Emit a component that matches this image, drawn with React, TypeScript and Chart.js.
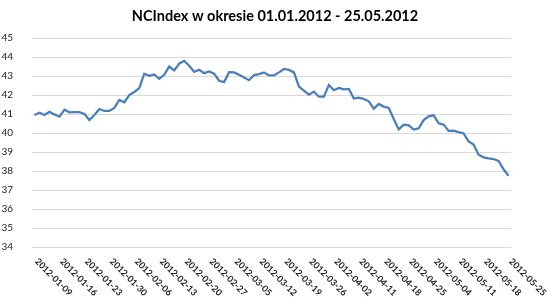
import React, { useEffect, useRef } from "react";
import { Chart, registerables } from "chart.js";

Chart.register(...registerables);

const TITLE = "NCIndex w okresie 01.01.2012 - 25.05.2012";

const dates: string[] = [
  "2012-01-09", "2012-01-10", "2012-01-11", "2012-01-12", "2012-01-13",
  "2012-01-16", "2012-01-17", "2012-01-18", "2012-01-19", "2012-01-20",
  "2012-01-23", "2012-01-24", "2012-01-25", "2012-01-26", "2012-01-27",
  "2012-01-30", "2012-01-31", "2012-02-01", "2012-02-02", "2012-02-03",
  "2012-02-06", "2012-02-07", "2012-02-08", "2012-02-09", "2012-02-10",
  "2012-02-13", "2012-02-14", "2012-02-15", "2012-02-16", "2012-02-17",
  "2012-02-20", "2012-02-21", "2012-02-22", "2012-02-23", "2012-02-24",
  "2012-02-27", "2012-02-28", "2012-02-29", "2012-03-01", "2012-03-02",
  "2012-03-05", "2012-03-06", "2012-03-07", "2012-03-08", "2012-03-09",
  "2012-03-12", "2012-03-13", "2012-03-14", "2012-03-15", "2012-03-16",
  "2012-03-19", "2012-03-20", "2012-03-21", "2012-03-22", "2012-03-23",
  "2012-03-26", "2012-03-27", "2012-03-28", "2012-03-29", "2012-03-30",
  "2012-04-02", "2012-04-03", "2012-04-04", "2012-04-05", "2012-04-10",
  "2012-04-11", "2012-04-12", "2012-04-13", "2012-04-16", "2012-04-17",
  "2012-04-18", "2012-04-19", "2012-04-20", "2012-04-23", "2012-04-24",
  "2012-04-25", "2012-04-26", "2012-04-27", "2012-04-30", "2012-05-02",
  "2012-05-04", "2012-05-07", "2012-05-08", "2012-05-09", "2012-05-10",
  "2012-05-11", "2012-05-14", "2012-05-15", "2012-05-16", "2012-05-17",
  "2012-05-18", "2012-05-21", "2012-05-22", "2012-05-23", "2012-05-24",
  "2012-05-25",
];

const ncindex: number[] = [
  40.95, 41.07, 40.95, 41.12, 40.98, 40.86, 41.23, 41.09, 41.1, 41.1,
  41.0, 40.68, 40.95, 41.26, 41.16, 41.16, 41.32, 41.74, 41.62, 42.0,
  42.16, 42.36, 43.12, 43.01, 43.08, 42.85, 43.06, 43.5, 43.29, 43.65,
  43.8, 43.54, 43.22, 43.33, 43.15, 43.24, 43.12, 42.75, 42.68, 43.2,
  43.19, 43.06, 42.92, 42.78, 43.05, 43.1, 43.19, 43.03, 43.03, 43.19,
  43.37, 43.32, 43.19, 42.44, 42.23, 42.02, 42.18, 41.91, 41.91, 42.53,
  42.25, 42.37, 42.3, 42.32, 41.81, 41.86, 41.79, 41.67, 41.28, 41.53,
  41.39, 41.32, 40.74, 40.19, 40.44, 40.4, 40.18, 40.25, 40.68, 40.88,
  40.93, 40.51, 40.44, 40.11, 40.12, 40.05, 39.98, 39.56, 39.39, 38.86,
  38.72, 38.67, 38.63, 38.53, 38.09, 37.75,
];

const Y_MIN = 34;
const Y_MAX = 45;
const Y_STEP = 1;
const LABEL_EVERY = 5;

const FONT = "Lato, 'Open Sans', sans-serif";

const xLabelsPlugin = {
  id: "xLabels",
  afterDraw(chart: any) {
    const { ctx, chartArea, scales } = chart;
    const xs = scales.x;
    ctx.save();
    ctx.font = `bold 9px ${FONT}`;
    ctx.fillStyle = "#222";
    ctx.textAlign = "left";
    ctx.textBaseline = "middle";
    dates.forEach((d, i) => {
      if (i % LABEL_EVERY !== 0) return;
      const x = xs.getPixelForValue(i);
      ctx.save();
      ctx.translate(x + 2, chartArea.bottom + 13);
      ctx.rotate(Math.PI / 4);
      ctx.fillText(d, 0, 0);
      ctx.restore();
    });
    ctx.restore();
  },
};

export default function App() {
  const ref = useRef<HTMLCanvasElement>(null);

  useEffect(() => {
    if (!ref.current) return;
    const chart = new Chart(ref.current, {
      type: "line",
      data: {
        labels: dates,
        datasets: [
          {
            data: ncindex,
            borderColor: "#4a7ebb",
            borderWidth: 2.25,
            pointRadius: 0,
            tension: 0,
            fill: false,
          },
        ],
      },
      options: {
        responsive: false,
        animation: false,
        layout: { padding: 0 },
        plugins: {
          legend: { display: false },
          tooltip: { enabled: false },
          title: {
            display: true,
            text: TITLE,
            color: "#000",
            font: { family: FONT, size: 14.5, weight: "bold", lineHeight: 1.2 },
            padding: { top: 8, bottom: 12.6 },
          },
        },
        scales: {
          x: {
            offset: true,
            grid: { display: false },
            border: { display: false },
            ticks: { display: false },
            afterFit: (s: any) => {
              s.height = 56;
            },
          },
          y: {
            min: Y_MIN,
            max: Y_MAX,
            grid: { color: "#d9d9d9", lineWidth: 1, drawTicks: false },
            border: { display: false },
            ticks: {
              stepSize: Y_STEP,
              padding: 19,
              color: "#222",
              font: { family: FONT, size: 10 },
            },
            afterFit: (s: any) => {
              s.width = 32;
            },
          },
          yRight: {
            position: "right",
            display: true,
            grid: { display: false },
            border: { display: false },
            ticks: { display: false },
            afterFit: (s: any) => {
              s.width = 39;
            },
          },
        },
      },
      plugins: [xLabelsPlugin],
    });
    return () => chart.destroy();
  }, []);

  return (
    <div style={{ position: "absolute", left: 0, top: 0, width: 550, height: 303 }}>
      <canvas ref={ref} width={550} height={303} />
    </div>
  );
}
